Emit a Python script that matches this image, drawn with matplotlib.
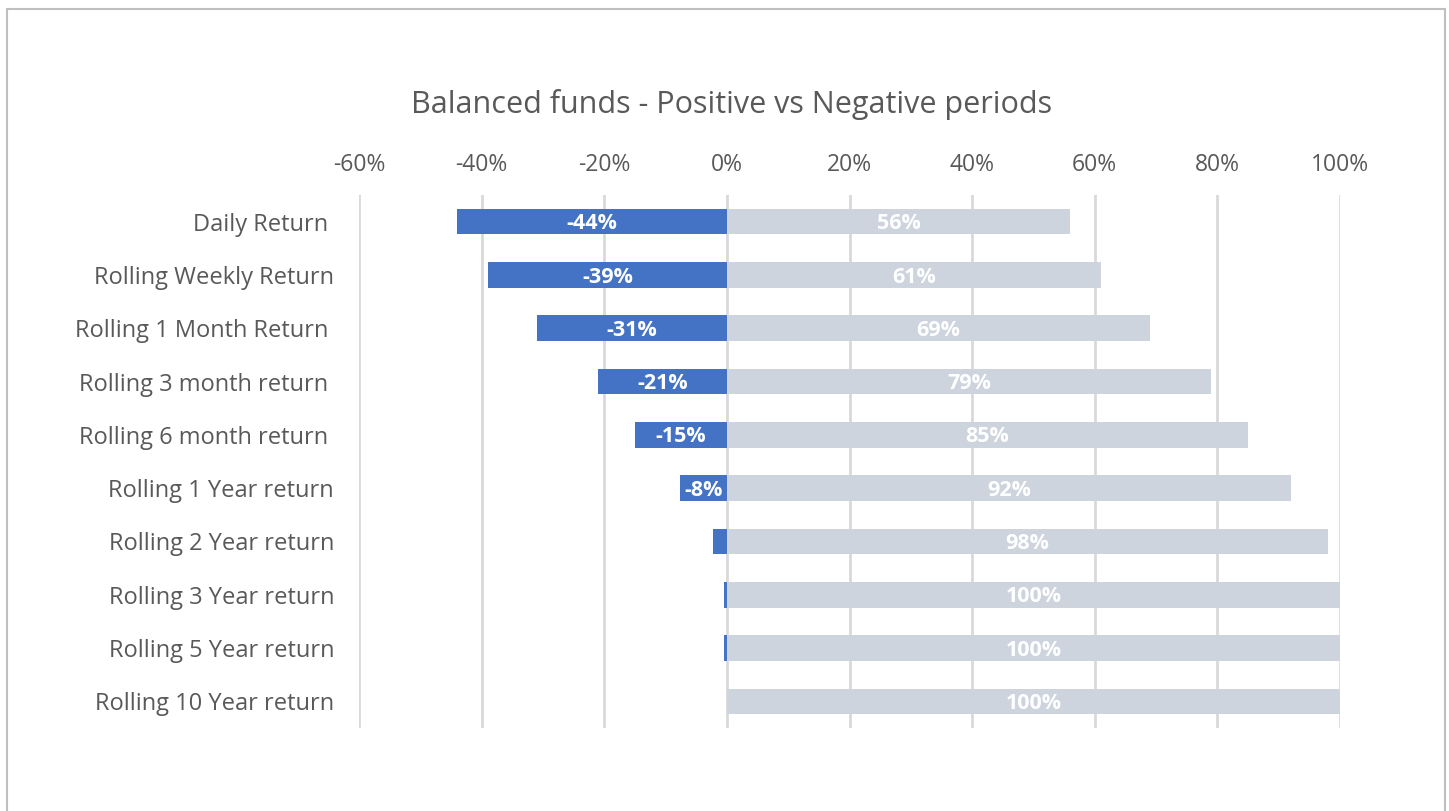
import matplotlib.pyplot as plt
from matplotlib.patches import Rectangle
import numpy as np

plt.rcParams['font.family'] = ['Open Sans', 'DejaVu Sans']

categories = ['Daily Return ', 'Rolling Weekly Return', 'Rolling 1 Month Return ',
              'Rolling 3 month return ', 'Rolling 6 month return ', 'Rolling 1 Year return',
              'Rolling 2 Year return', 'Rolling 3 Year return', 'Rolling 5 Year return',
              'Rolling 10 Year return']
negative = [-44, -39, -31, -21, -15, -7.7, -2.2, -0.4, -0.4, 0]
positive = [56, 61, 69, 79, 85, 92, 98, 100, 100, 100]
xticks = [-60, -40, -20, 0, 20, 40, 60, 80, 100]

blue = '#4472C4'
grey = '#CDD4DE'
text_grey = '#595959'

fig = plt.figure(figsize=(14.49, 8.11), dpi=100)
ax = fig.add_axes([0.2478, 0.1023, 0.6770, 0.6573])

y = np.arange(len(categories))
ax.barh(y, negative, height=0.48, color=blue, zorder=3)
ax.barh(y, positive, height=0.48, color=grey, zorder=3)

# data labels, hidden where the bar is too short
for yi, n, p in zip(y, negative, positive):
    if n <= -5:
        ax.text(n / 2, yi + 0.04, '{:.0f}%'.format(n), color='white', fontsize=15.5,
                fontweight='bold', ha='center', va='center', zorder=4)
    ax.text(p / 2, yi + 0.04, '{:.0f}%'.format(p), color='white', fontsize=15.5,
            fontweight='bold', ha='center', va='center', zorder=4)

ax.set_xlim(-60, 100)
ax.set_ylim(len(categories) - 0.5, -0.5)
ax.set_xticks(xticks)
ax.set_xticklabels(['{}%'.format(t) for t in xticks])
ax.xaxis.tick_top()
ax.tick_params(axis='x', length=0, pad=13, labelsize=16.5, labelcolor=text_grey)
ax.set_yticks(y)
ax.set_yticklabels(categories)
ax.tick_params(axis='y', length=0, pad=18, labelsize=17, labelcolor=text_grey)
ax.grid(axis='x', color='#D9D9D9', linewidth=2, zorder=0)
for s in ax.spines.values():
    s.set_visible(False)

fig.text(0.505, 0.871, 'Balanced funds - Positive vs Negative periods', ha='center',
         va='center', fontsize=22, color=text_grey)

fig.patches.append(Rectangle((7 / 1449, -0.1), 1438 / 1449, 1.1 - 9 / 811,
                             transform=fig.transFigure, fill=False,
                             edgecolor='#BFBFBF', linewidth=1.5))

fig.savefig('out.png', dpi=100)
